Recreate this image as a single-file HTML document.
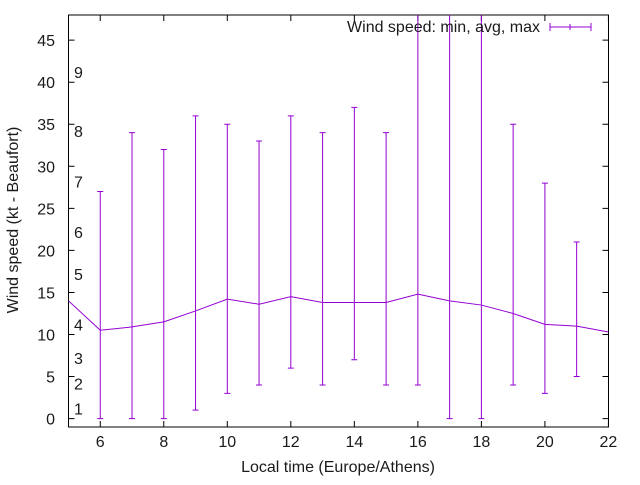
<!DOCTYPE html>
<html><head><meta charset="utf-8"><style>
body{margin:0;background:#fff}
text{font-family:"Liberation Sans",sans-serif;font-size:16px;fill:#1a1a1a}
</style></head><body>
<svg id="c" width="640" height="480">
<defs><clipPath id="pc"><rect x="68.5" y="15" width="540" height="412"/></clipPath></defs>
<rect x="68.5" y="15" width="540" height="412" fill="none" stroke="#000"/>
<g id="axes"></g>
<g id="series" clip-path="url(#pc)"></g>
<text x="540" y="32" text-anchor="end">Wind speed: min, avg, max</text>
<g stroke="#9400d3"><line x1="550" y1="27" x2="591" y2="27"/><line x1="550" y1="23" x2="550" y2="31"/><line x1="591" y1="23" x2="591" y2="31"/><line x1="570" y1="24" x2="570" y2="30"/></g>
<text x="338" y="472" text-anchor="middle">Local time (Europe/Athens)</text>
<text transform="translate(18,220) rotate(-90)" text-anchor="middle">Wind speed (kt - Beaufort)</text>
</svg>
<script>
const hours=[5,6,7,8,9,10,11,12,13,14,15,16,17,18,19,20,21,22];
const avgs=[14,10.5,10.9,11.5,12.8,14.2,13.6,14.5,13.8,13.8,13.8,14.8,14,13.5,12.5,11.2,11,10.3];
const mins=[null,0,0,0,1,3,4,6,4,7,4,4,0,0,4,3,5,null];
const maxs=[null,27,34,32,36,35,33,36,34,37,34,55,55,55,35,28,21,null];
const xTicks=[6,8,10,12,14,16,18,20,22];
const yTicks=[0,5,10,15,20,25,30,35,40,45];
const beaufortLabels=["1","2","3","4","5","6","7","8","9"];
const beaufortPos=[1.2,4.2,7.2,11.2,17.2,22.2,28.2,34.2,41.2];
const X=v=>68.5+(v-5)*31.76, Y=v=>427-(v+1)*8.41;
const NS="http://www.w3.org/2000/svg";
function mk(t,a,p){const e=document.createElementNS(NS,t);for(const k in a)e.setAttribute(k,a[k]);p.appendChild(e);return e;}
const ax=document.getElementById('axes'), se=document.getElementById('series');
xTicks.forEach(t=>{
 const l=mk('path',{d:`M${X(t)},427v-6M${X(t)},15v6`,stroke:'#000'},ax);
 
 
 const tx=mk('text',{x:X(t),y:447,'text-anchor':'middle'},ax);tx.textContent=t;
 
 
});
yTicks.forEach(t=>{
 const l=mk('path',{d:`M68.5,${Y(t)}h6M608.5,${Y(t)}h-6`,stroke:'#000'},ax);
 
 
 const tx=mk('text',{x:55,y:Y(t)+6,'text-anchor':'end'},ax);tx.textContent=t;
 
 
});
beaufortLabels.forEach((b,i)=>{
 const tx=mk('text',{x:74,y:Y(beaufortPos[i])+6},ax);tx.textContent=b;
 
 
});
hours.forEach((h,i)=>{
 if(mins[i]==null)return;
 const x=X(h);
 const g=mk('path',{d:`M${x},${Y(mins[i])}V${Y(maxs[i])}M${x-3},${Y(mins[i])}h6M${x-3},${Y(maxs[i])}h6`,stroke:'#9400d3',fill:'none'},se);
 
 
});
const pl=mk('polyline',{points:hours.map((h,i)=>X(h)+','+Y(avgs[i])).join(' '),stroke:'#9400d3',fill:'none'},se);


</script>
</body></html>
